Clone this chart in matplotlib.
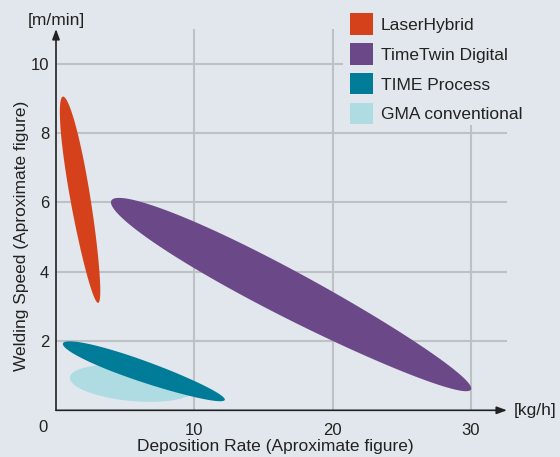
import matplotlib
matplotlib.use('Agg')
import matplotlib.pyplot as plt
import numpy as np
from matplotlib.patches import Polygon, Rectangle, Patch

# ---- data ----
processes = ['LaserHybrid', 'TimeTwin Digital', 'TIME Process', 'GMA conventional']
rate_start = [0.5, 4.0, 0.5, 1.0]      # kg/h at one end of the region
speed_start = [9.05, 6.05, 1.93, 0.95]  # m/min at that end
rate_end = [3.05, 30.0, 12.2, 10.0]
speed_end = [3.1, 0.6, 0.30, 0.61]
x_ticks = [10, 20, 30]
y_ticks = [2, 4, 6, 8, 10]

# ---- styles ----
colors = ['#d4411b', '#6b4989', '#007c99', '#afdce3']
band_width_px = [20, 46, 21, 35.5]
band_taper = [0.12, 0.12, 0.12, 0.0]
draw_order = [3, 2, 0, 1]
BG = '#e1e7ec'
GRID = '#bec1c4'
INK = '#222222'
FONT = ['Liberation Sans', 'DejaVu Sans']
plt.rcParams['font.family'] = FONT

fig = plt.figure(figsize=(5.6, 4.57), dpi=100, facecolor=BG)
ax = fig.add_axes([56 / 560, (457 - 410.3) / 457, 451 / 560, 381.3 / 457])
ax.set_facecolor(BG)
ax.set_xlim(0, 32.6)
ax.set_ylim(0, 11.0)
for s in ax.spines.values():
    s.set_visible(False)

ax.set_axisbelow(True)
ax.set_xticks(x_ticks)
ax.set_yticks(y_ticks)
ax.grid(True, color=GRID, lw=1.5)
ax.tick_params(length=0, labelsize=12, colors=INK)
ax.tick_params(axis='x', pad=8.8)
ax.tick_params(axis='y', pad=5)


def band(x0, y0, x1, y1, w, k):
    p0 = ax.transData.transform((x0, y0))
    p1 = ax.transData.transform((x1, y1))
    c = (p0 + p1) / 2
    d = p1 - p0
    L = np.hypot(*d)
    e = d / L
    n = np.array([-e[1], e[0]])
    t = np.linspace(0, 2 * np.pi, 300)
    u = L / 2 * np.cos(t)
    v = w / 2 * np.sin(t) * (1 - k * np.cos(t))
    pts = c + np.outer(u, e) + np.outer(v, n)
    return ax.transData.inverted().transform(pts)


for i in draw_order:
    pts = band(rate_start[i], speed_start[i], rate_end[i], speed_end[i],
               band_width_px[i], band_taper[i])
    ax.add_patch(Polygon(pts, closed=True, facecolor=colors[i],
                         edgecolor='none', zorder=2))

# axes with arrows
arrow = dict(arrowstyle='-|>,head_length=0.6,head_width=0.22', lw=1.2,
             color=INK, shrinkA=0, shrinkB=0)
ax.annotate('', xy=(1.0, 0), xycoords='axes fraction', xytext=(0, 0),
            textcoords='axes fraction', arrowprops=arrow, zorder=4)
ax.annotate('', xy=(0, 1.0), xycoords='axes fraction', xytext=(0, 0),
            textcoords='axes fraction', arrowprops=arrow, zorder=4)

ax.annotate('0', xy=(0, 0), xytext=(-13, -17.5), textcoords='offset pixels',
            ha='center', va='center', fontsize=12, color=INK)

# units and axis titles
fig.text(56.7 / 560, 1 - 20 / 457, '[m/min]', ha='center', va='center',
         fontsize=12.5, color=INK)
fig.text(535 / 560, 1 - 410 / 457, '[kg/h]', ha='center', va='center',
         fontsize=12.5, color=INK)
fig.text(275 / 560, 1 - 447 / 457, 'Deposition Rate (Aproximate figure)',
         ha='center', va='center', fontsize=12.5, color=INK)
fig.text(22 / 560, 1 - 236 / 457, 'Welding Speed (Aproximate figure)',
         ha='center', va='center', rotation=90, fontsize=12.5, color=INK)

# legend area hides the grid
fig.patches.append(Rectangle((343 / 560, 1 - 125 / 457), (560 - 343) / 560,
                             125 / 457, transform=fig.transFigure,
                             facecolor=BG, edgecolor='none', zorder=1))

handles = [Patch(facecolor=c, edgecolor='none', label=l)
           for c, l in zip(colors, processes)]
fig.legend(handles=handles, loc='upper left',
           bbox_to_anchor=(350 / 560, 1 - 13.5 / 457),
           bbox_transform=fig.transFigure, frameon=False, borderpad=0,
           borderaxespad=0, handlelength=1.3, handleheight=1.5,
           handletextpad=0.46, labelspacing=0.50, fontsize=12.5,
           labelcolor=INK)

fig.savefig('out.png', dpi=100, facecolor=BG)
